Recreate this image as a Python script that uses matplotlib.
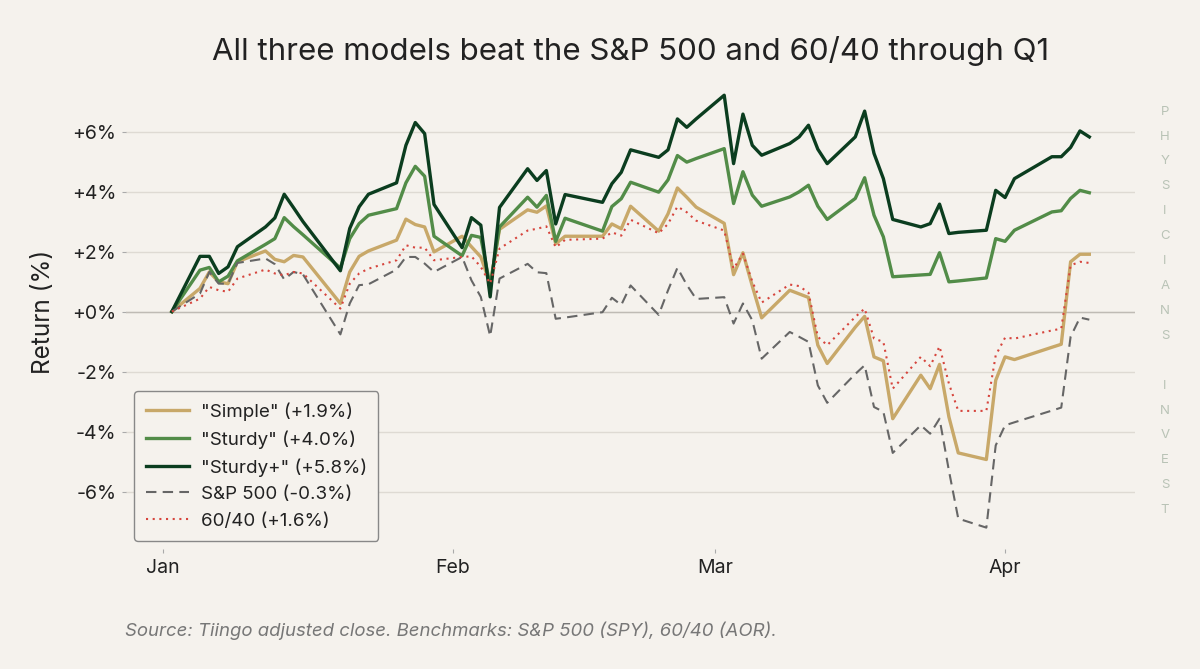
import numpy as np
import pandas as pd
import matplotlib
matplotlib.use("Agg")
import matplotlib.pyplot as plt
import matplotlib.dates as mdates
from matplotlib.ticker import FuncFormatter

# Trading days Jan 2 - Apr 10 2026 (market holidays removed)
feriados = ['2026-01-19', '2026-02-16', '2026-04-03']
fechas = pd.bdate_range('2026-01-02', '2026-04-10')
fechas = fechas[~fechas.isin(pd.to_datetime(feriados))]

# cumulative return in %
sturdy_plus = [0, 1.84, 1.84, 1.27, 1.49, 2.16, 2.82, 3.12, 3.91, 3.46, 3.0, 1.36,
               2.77, 3.49, 3.91, 4.29, 5.54, 6.30, 5.93, 3.57,
               2.13, 3.13, 2.88, 0.49, 3.47,
               4.76, 4.37, 4.70, 2.92, 3.90, 3.64, 4.26, 4.64, 5.39, 5.14, 5.39, 6.42, 6.14, 6.42,
               7.21, 4.93, 6.58, 5.54, 5.21, 5.60, 5.82, 6.21, 5.41, 4.93, 5.82, 6.68, 5.27, 4.43, 3.07,
               2.82, 2.93, 3.58, 2.60, 2.64, 2.71, 4.04, 3.80, 4.43, 5.16, 5.16, 5.47, 6.02, 5.82]
sturdy = [0, 1.38, 1.47, 0.99, 1.18, 1.69, 2.24, 2.43, 3.13, 2.83, 2.56, 1.45,
          2.43, 2.93, 3.21, 3.43, 4.29, 4.84, 4.51, 2.51,
          1.86, 2.54, 2.47, 0.85, 2.82,
          3.81, 3.48, 3.87, 2.34, 3.11, 2.68, 3.50, 3.76, 4.31, 3.98, 4.39, 5.20, 4.98, 5.10,
          5.43, 3.60, 4.66, 3.88, 3.51, 3.82, 3.99, 4.21, 3.51, 3.07, 3.77, 4.46, 3.21, 2.49, 1.16,
          1.22, 1.24, 1.96, 0.99, 1.02, 1.12, 2.43, 2.34, 2.71, 3.32, 3.36, 3.77, 4.04, 3.96]
simple = [0, 0.77, 1.32, 0.99, 0.93, 1.66, 2.02, 1.74, 1.66, 1.87, 1.82, 0.27,
          1.32, 1.84, 2.02, 2.38, 3.08, 2.90, 2.82, 1.99,
          2.51, 2.16, 1.82, 0.93, 2.74,
          3.39, 3.31, 3.52, 2.26, 2.51, 2.51, 2.92, 2.76, 3.51, 2.68, 3.26, 4.12, 3.81, 3.48,
          2.94, 1.23, 1.96, 0.85, -0.21, 0.71, 0.59, 0.47, -1.12, -1.73, -0.52, -0.16, -1.51, -1.64, -3.57,
          -2.12, -2.57, -1.76, -3.51, -4.71, -4.93, -2.29, -1.51, -1.60, -1.19, -1.09, 1.66, 1.91, 1.91]
sp500 = [0, 0.60, 1.32, 0.93, 0.93, 1.62, 1.77, 1.58, 1.07, 1.32, 1.24, -0.76,
         0.27, 0.88, 0.91, 1.40, 1.82, 1.82, 1.60, 1.32,
         1.82, 1.04, 0.49, -0.82, 1.10,
         1.59, 1.31, 1.28, -0.24, -0.20, -0.02, 0.46, 0.22, 0.87, -0.11, 0.71, 1.46, 0.89, 0.42,
         0.48, -0.40, 0.27, -0.29, -1.57, -0.68, -0.84, -1.01, -2.46, -3.04, -2.08, -1.79, -3.18, -3.34, -4.71,
         -3.79, -4.07, -3.57, -5.30, -6.90, -7.20, -4.46, -3.79, -3.69, -3.30, -3.20, -0.84, -0.20, -0.27]
sesenta_cuarenta = [0, 0.43, 0.82, 0.71, 0.66, 1.10, 1.40, 1.27, 1.21, 1.32, 1.27, 0.10,
                    0.93, 1.27, 1.43, 1.71, 2.21, 2.13, 2.13, 1.71,
                    1.82, 1.84, 1.49, 0.93, 2.10,
                    2.70, 2.76, 2.84, 2.14, 2.39, 2.43, 2.64, 2.53, 3.06, 2.61, 2.92, 3.50, 3.31, 3.03,
                    2.70, 1.43, 1.93, 1.00, 0.30, 0.90, 0.85, 0.63, -0.84, -1.12, -0.18, 0.10, -0.90, -1.01, -2.57,
                    -1.51, -1.82, -1.16, -2.40, -3.31, -3.31, -1.46, -0.87, -0.90, -0.63, -0.57, 1.54, 1.66, 1.62]

etiquetas = ['"Simple" (+1.9%)', '"Sturdy" (+4.0%)', '"Sturdy+" (+5.8%)',
             'S&P 500 (-0.3%)', '60/40 (+1.6%)']
marca = "PHYSICIANS INVEST"

datos = pd.DataFrame({'simple': simple, 'sturdy': sturdy, 'sturdy_plus': sturdy_plus,
                      'sp500': sp500, '6040': sesenta_cuarenta}, index=fechas)

fondo = '#F5F2ED'
plt.rcParams['font.family'] = ['Inter', 'DejaVu Sans']

fig = plt.figure(figsize=(12, 6.69), dpi=100, facecolor=fondo)
ax = fig.add_axes([0.105, 0.179, 0.841, 0.711], facecolor=fondo)

ax.plot(datos.index, datos['simple'], color='#C8A869', lw=2.4, label=etiquetas[0])
ax.plot(datos.index, datos['sturdy'], color='#528C48', lw=2.4, label=etiquetas[1])
ax.plot(datos.index, datos['sturdy_plus'], color='#0B3D1F', lw=2.4, label=etiquetas[2])
ax.plot(datos.index, datos['sp500'], color='#666666', lw=1.5, ls=(0, (5, 3)), label=etiquetas[3])
ax.plot(datos.index, datos['6040'], color='#D6453D', lw=1.5, ls=(0, (1, 2.2)), label=etiquetas[4])

ax.grid(axis='y', color='#DEDAD3', lw=1)
ax.axhline(0, color='#BFBBB5', lw=1, zorder=1)
ax.set_axisbelow(True)
for s in ax.spines.values():
    s.set_visible(False)

ax.set_yticks([-6, -4, -2, 0, 2, 4, 6])
ax.yaxis.set_major_formatter(FuncFormatter(lambda v, p: f"{v:+.0f}%"))
ax.xaxis.set_major_locator(mdates.MonthLocator())
ax.xaxis.set_major_formatter(mdates.DateFormatter('%b'))
ax.tick_params(length=3, color='#AAAAAA', labelsize=14, labelcolor='#222222', pad=4)

ax.set_ylabel('Return (%)', fontsize=17.5, color='#222222', labelpad=12)
ax.set_title('All three models beat the S&P 500 and 60/40 through Q1',
             fontsize=22.5, color='#222222', pad=10)

leg = ax.legend(loc='lower left', fontsize=13.5, frameon=True, facecolor=fondo,
                edgecolor='#888888', framealpha=1, handlelength=2.3, handletextpad=0.65,
                borderpad=0.6, borderaxespad=0.45)
leg.get_frame().set_linewidth(1)
for t in leg.get_texts():
    t.set_color('#222222')

fig.text(0.104, 0.057, 'Source: Tiingo adjusted close. Benchmarks: S&P 500 (SPY), 60/40 (AOR).',
         fontsize=13.4, style='italic', color='#777777', ha='left', va='center')

# vertical watermark on the right
for i, letra in enumerate(marca):
    fig.text(1165 / 1200, 1 - (111.7 + i * 24.9) / 669, letra, fontsize=9.5,
             color='#B9C3B6', ha='center', va='center')

fig.savefig('out.png', dpi=100, facecolor=fondo)
